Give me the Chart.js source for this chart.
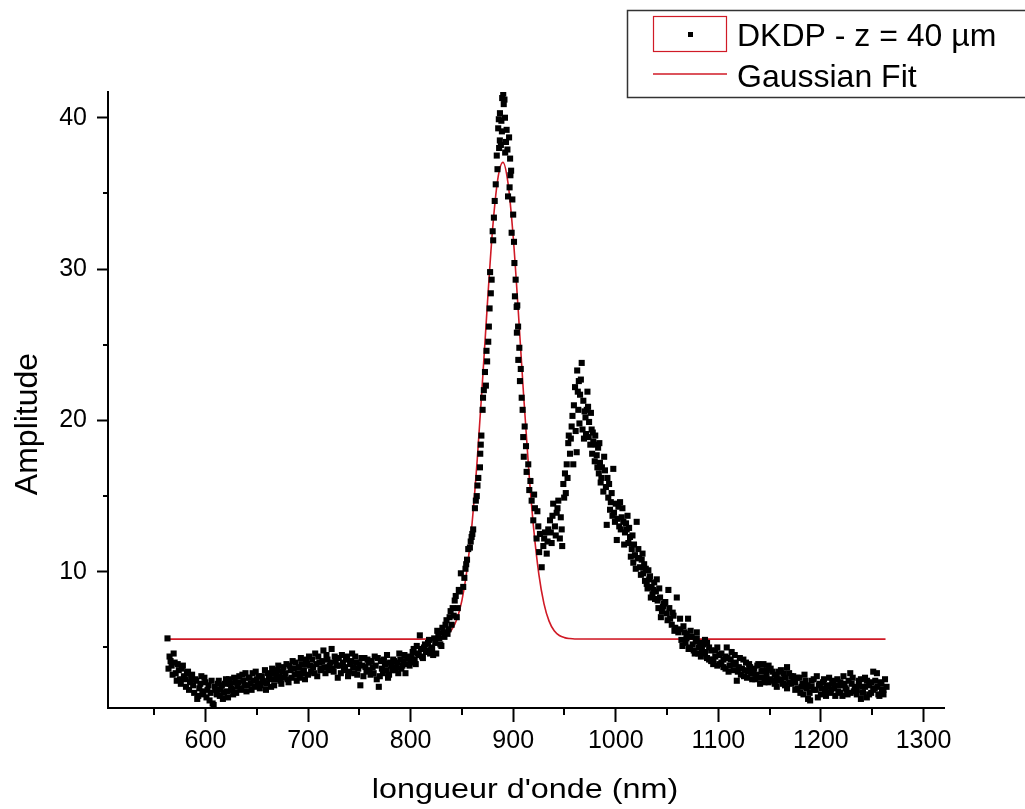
<!DOCTYPE html>
<html>
<head>
<meta charset="utf-8">
<title>DKDP - Amplitude</title>
<script src="https://cdn.jsdelivr.net/npm/chart.js@4.4.1/dist/chart.umd.min.js"></script>
<style>
  html, body { margin: 0; padding: 0; background: #fff; overflow: hidden; }
  canvas { display: block; }
</style>
</head>
<body>
<canvas id="myChart" width="1025" height="809"></canvas>
<script>
// tick labels
const xTicks = [600, 700, 800, 900, 1000, 1100, 1200, 1300];
const xMinorTicks = [550, 650, 750, 850, 950, 1050, 1150, 1250];
const yTicks = [10, 20, 30, 40];
const yMinorTicks = [5, 15, 25, 35];

// measured points, left baseline (nm / amplitude)
const wlLeft = [
  563, 565, 567, 569, 571, 573, 575, 577, 579, 581,
  583, 585, 587, 589, 591, 593, 595, 597, 599, 601,
  603, 605, 607, 609, 611, 613, 615, 617, 619, 621,
  623, 625, 627, 629, 631, 633, 635, 637, 639, 641,
  643, 645, 647, 649, 651, 653, 655, 657, 659, 661,
  663, 665, 667, 669, 671, 673, 675, 677, 679, 681,
  683, 685, 687, 689, 691, 693, 695, 697, 699, 701,
  703, 705, 707, 709, 711, 713, 715, 717, 719, 721,
  723, 725, 727, 729, 731, 733, 735, 737, 739, 741,
  743, 745, 747, 749, 751, 753, 755, 757, 759, 761,
  763, 765, 767, 769, 771, 773, 775, 777, 779, 781,
  783, 785, 787, 789, 791, 793, 795, 797, 799
];
const ampLeft = [
  5.6, 4.4, 3.8, 4.6, 3.3, 3.9, 2.9, 3.6, 3.1, 2.4,
  3.4, 2.7, 3.2, 2.0, 2.8, 1.8, 2.6, 2.1, 3.0, 1.7,
  2.5, 2.0, 1.3, 2.4, 1.9, 2.8, 2.2, 1.6, 2.6, 2.1,
  2.9, 2.3, 1.9, 2.7, 2.4, 3.1, 2.2, 2.8, 3.3, 2.5,
  3.0, 2.2, 2.8, 3.4, 2.6, 2.3, 3.1, 2.7, 2.2, 3.3,
  2.9, 3.6, 2.5, 3.2, 3.8, 2.8, 3.4, 3.0, 3.9, 2.7,
  3.5, 4.1, 3.2, 2.8, 3.7, 4.3, 3.3, 2.9, 3.9, 4.4,
  3.4, 3.7, 4.6, 3.1, 4.0, 3.6, 4.8, 3.3, 4.2, 3.8,
  4.9, 3.4, 4.1, 3.0, 3.8, 4.5, 3.5, 4.2, 3.1, 3.9,
  4.6, 3.3, 4.0, 3.6, 2.5, 3.8, 4.3, 3.4, 4.0, 3.2,
  3.7, 4.4, 2.9, 2.4, 4.1, 3.3, 3.9, 4.5, 3.2, 3.8,
  4.2, 3.5, 4.0, 4.6, 3.6, 4.1, 3.3, 4.4, 3.8
];
const wlLeft2 = [
  564, 566, 568, 570, 572, 574, 576, 578, 580, 582,
  584, 586, 588, 590, 592, 594, 596, 598, 600, 602,
  604, 606, 608, 610, 612, 614, 616, 618, 620, 622,
  624, 626, 628, 630, 632, 634, 636, 638, 640, 642,
  644, 646, 648, 650, 652, 654, 656, 658, 660, 662,
  664, 666, 668, 670, 672, 674, 676, 678, 680, 682,
  684, 686, 688, 690, 692, 694, 696, 698, 700, 702,
  704, 706, 708, 710, 712, 714, 716, 718, 720, 722,
  724, 726, 728, 730, 732, 734, 736, 738, 740, 742,
  744, 746, 748, 750, 752, 754, 756, 758, 760, 762,
  764, 766, 768, 770, 772, 774, 776, 778, 780, 782,
  784, 786, 788, 790, 792, 794, 796, 798
];
const ampLeft2 = [
  3.6, 4.1, 3.2, 4.0, 2.8, 3.5, 2.6, 3.8, 2.9, 3.3,
  2.2, 3.0, 2.5, 2.9, 1.6, 2.3, 3.1, 1.9, 2.7, 2.2,
  1.5, 2.8, 1.2, 2.2, 2.6, 1.8, 2.5, 2.0, 2.9, 1.7,
  2.6, 2.2, 3.0, 2.0, 2.7, 2.3, 3.2, 2.5, 2.1, 3.0,
  2.6, 3.3, 2.4, 2.9, 3.1, 2.5, 2.8, 3.5, 2.6, 3.0,
  2.4, 3.3, 2.9, 3.5, 3.1, 2.6, 3.7, 3.3, 2.9, 3.8,
  3.0, 3.6, 4.0, 3.3, 3.0, 3.9, 3.5, 4.2, 3.2, 3.8,
  4.2, 3.3, 3.9, 4.4, 3.5, 4.1, 3.7, 4.5, 3.5, 4.0,
  3.6, 4.4, 3.8, 4.3, 3.3, 4.0, 3.7, 4.4, 3.4, 4.1,
  3.7, 4.4, 3.2, 3.9, 4.3, 3.1, 3.7, 4.2, 3.5, 4.1,
  3.3, 3.8, 4.3, 3.1, 3.6, 4.2, 3.5, 3.0, 4.0, 3.5,
  4.1, 3.7, 3.3, 4.2, 3.8, 4.5, 3.9, 4.3
];

// rising edge before the main peak
const wlRise = [
  800, 801, 802, 803, 804, 805, 806, 807, 808, 809,
  810, 811, 812, 813, 814, 815, 816, 817, 818, 819,
  820, 821, 822, 823, 824, 825, 826, 827, 828, 829,
  830, 831, 832, 833, 834, 835, 836, 837, 838, 839,
  840, 841, 842, 843, 844, 845, 846, 847, 848, 849
];
const ampRise = [
  4.0, 4.3, 4.7, 4.9, 4.2, 3.9, 5.1, 4.6, 4.5, 5.8,
  4.9, 4.4, 4.3, 5.0, 5.2, 4.7, 4.8, 5.3, 5.5, 4.6,
  5.0, 4.9, 4.5, 5.6, 5.3, 4.6, 6.1, 5.9, 5.6, 5.2,
  5.1, 6.3, 6.0, 5.7, 6.5, 6.8, 5.9, 6.2, 7.0, 7.4,
  6.5, 7.6, 7.1, 8.1, 8.4, 7.0, 7.6, 8.8, 8.7, 9.9
];

// main peak and valley
const wlPeak = [
  851.3, 853.5, 855.0, 856.2, 857.8, 859.5, 861.0, 862.7, 864.5, 866.0,
  867.6, 867.9, 869.0, 870.2, 870.6, 872.5, 873.4, 874.6, 875.7, 876.3,
  877.0, 877.5, 879.0, 880.0, 880.5, 882.0, 883.0, 884.0, 885.4, 886.3,
  887.0, 887.1, 888.5, 889.3, 890.3, 890.8, 892.0, 892.2, 893.6, 895.0,
  896.0, 897.0, 897.3, 898.0, 898.5, 900.0, 900.8, 901.7, 902.4, 903.4,
  903.6, 904.0, 905.0, 906.0, 906.6, 908.3, 909.2, 909.8, 910.3, 912.5,
  913.1, 914.7, 915.7, 918.0, 919.6, 921.2, 922.8, 924.5, 926.1, 927.8,
  929.4, 931.0, 932.7, 934.2, 935.9, 937.5, 939.0, 940.7, 942.4, 944.0,
  945.5, 947.3, 947.8,
  852.4, 854.2, 858.6, 860.2, 863.6, 865.2, 868.4, 871.4, 874.0, 878.2,
  881.2, 884.7, 886.0, 888.0, 889.0, 891.5, 893.0, 894.4, 896.5, 899.2,
  901.2, 904.8, 907.4, 911.2, 916.8, 920.4, 923.6, 925.3, 930.2, 933.5,
  936.7, 938.3, 941.5, 943.2, 946.4
];
const ampPeak = [
  9.0, 10.2, 10.8, 11.5, 11.6, 12.3, 12.8, 14.2, 15.0, 16.2,
  16.9, 17.8, 19.0, 20.7, 21.5, 23.2, 22.3, 23.9, 25.2, 26.2,
  27.4, 29.8, 29.3, 32.5, 31.9, 34.5, 35.6, 37.5, 39.3, 38.0,
  38.5, 40.3, 39.8, 41.3, 41.6, 40.9, 40.0, 37.7, 39.2, 34.8,
  38.7, 37.3, 36.2, 36.5, 32.4, 33.6, 31.8, 28.2, 29.3, 27.5,
  25.8, 27.6, 24.0, 24.8, 22.6, 21.5, 20.7, 18.9, 17.6, 18.3,
  16.6, 17.1, 15.4, 14.7, 13.4, 14.2, 12.2, 13.0, 12.5, 10.3,
  11.7, 12.6, 11.2, 12.8, 13.4, 11.9, 14.5, 13.0, 13.9, 14.7,
  12.2, 12.8, 11.7,
  9.6, 10.5, 12.0, 12.5, 14.7, 15.7, 18.4, 22.0, 24.6, 28.4,
  33.4, 36.6, 39.9, 38.2, 39.1, 41.2, 38.4, 37.9, 35.4, 34.6,
  30.4, 26.2, 23.4, 19.6, 16.0, 15.1, 14.0, 11.3, 12.2, 12.0,
  12.6, 13.7, 12.4, 14.2, 13.6
];

// second peak and its decay
const wlSecond = [
  948.9, 950.5, 952.2, 953.7, 954.2, 955.4, 957.0, 958.6, 959.2, 960.3,
  961.9, 962.4, 963.5, 965.2, 966.8, 967.6, 968.4, 969.0, 970.5, 971.7,
  972.4, 974.0, 976.5, 977.0, 978.1, 979.5, 981.4, 982.8, 984.6, 985.3,
  987.9, 989.5, 991.2, 992.7, 994.4, 996.0, 997.6, 998.3, 999.2, 1001.0,
  1002.6, 1004.2, 1005.8, 1007.4, 1009.0, 1010.7, 1012.3, 1013.9, 1015.6, 1017.1,
  1018.7, 1020.4, 1022.0, 1023.7, 1025.3, 1026.9, 1028.5, 1030.2, 1031.8, 1033.4,
  1035.0, 1036.6, 1038.3, 1040.0, 1041.6, 1043.2, 1045.0, 1047.0, 1049.7, 1051.3,
  1053.0, 1054.6, 1056.3, 1058.0, 1059.5,
  951.3, 964.0, 973.0, 975.2, 980.0, 983.5, 986.5, 993.5, 1003.4, 1011.5,
  1016.3, 1021.2, 1027.7, 1034.2, 1039.1, 1044.0, 1048.3,
  949.7, 953.0, 956.2, 957.8, 960.9, 963.0, 964.6, 966.0, 969.6, 971.0,
  973.6, 975.8, 977.6, 980.6, 982.1, 984.0, 986.0, 988.7, 990.4, 991.9,
  995.2, 996.8, 1000.0, 1001.8, 1004.9, 1006.5, 1008.2, 1010.0, 1013.0, 1014.7,
  1017.8, 1019.5, 1022.8, 1024.5, 1026.1, 1029.3, 1031.0, 1032.6, 1035.8, 1037.5,
  1040.8, 1042.4, 1046.0, 1050.5, 1052.2, 1055.5, 1057.2
];
const ampSecond = [
  15.8, 16.5, 17.1, 18.5, 19.0, 17.8, 19.6, 17.1, 21.0, 22.2,
  17.9, 23.3, 20.7, 21.7, 23.8, 19.4, 21.3, 18.8, 20.2, 20.7,
  21.9, 19.9, 19.4, 17.8, 18.6, 17.3, 17.7, 18.2, 17.2, 15.9,
  15.3, 16.7, 13.1, 14.9, 14.1, 15.2, 16.8, 13.9, 13.3, 12.1,
  14.3, 14.6, 13.6, 13.3, 12.6, 12.8, 11.9, 12.3, 11.5, 10.6,
  11.1, 13.3, 11.5, 10.3, 10.8, 9.9, 9.4, 9.2, 10.1, 9.7,
  9.0, 8.8, 8.2, 9.5, 7.6, 8.3, 7.4, 7.9, 7.25, 8.8,
  6.9, 6.5, 7.1, 6.3, 8.3,
  15.2, 22.6, 20.9, 18.4, 19.0, 16.5, 16.9, 15.8, 13.0, 13.7,
  12.4, 10.9, 10.5, 8.3, 8.7, 7.0, 8.0,
  14.9, 16.2, 18.8, 20.3, 19.3, 21.9, 19.8, 22.7, 20.6, 19.1,
  18.9, 20.5, 19.2, 18.4, 16.9, 18.5, 16.2, 17.6, 15.6, 16.2,
  14.6, 13.7, 14.5, 13.5, 12.8, 14.2, 11.8, 13.2, 12.9, 11.0,
  11.8, 10.2, 10.9, 9.8, 11.2, 10.2, 8.9, 9.5, 8.5, 9.3,
  8.1, 8.9, 7.7, 6.8, 7.6, 7.3, 6.1
];

// long wavelength tail
const wlTail = [
  1061.0, 1062.7, 1064.0, 1066.0, 1068.0, 1069.2, 1070.5, 1072.4, 1074.0, 1076.0,
  1078.0, 1079.0, 1080.5, 1082.2, 1084.0, 1085.4, 1087.0, 1089.0, 1091.0, 1093.0,
  1095.2, 1097.0, 1099.0, 1101.0, 1103.0, 1105.0, 1107.0, 1108.2, 1110.0, 1112.0,
  1114.7, 1116.0, 1118.0, 1120.0, 1122.0, 1124.4, 1126.0, 1128.0, 1130.0, 1132.0,
  1134.2, 1136.0, 1138.0, 1140.7, 1142.0, 1144.0, 1146.0, 1147.3, 1149.0, 1151.0,
  1153.7, 1155.0, 1157.0, 1159.0, 1161.0, 1163.5, 1165.0, 1167.0, 1169.0, 1171.0,
  1173.2, 1175.0, 1177.0, 1180.0, 1182.0, 1184.0, 1186.0, 1187.5, 1189.5, 1191.0,
  1193.0, 1196.0, 1198.0, 1200.0, 1202.0, 1204.0, 1205.8, 1208.0, 1210.0, 1212.0,
  1214.0, 1216.0, 1218.8, 1220.0, 1222.0, 1224.0, 1226.0, 1228.6, 1230.0, 1232.0,
  1235.1, 1237.0, 1239.0, 1241.0, 1243.0, 1244.8, 1247.0, 1249.0, 1251.0, 1252.5,
  1254.6, 1256.0, 1258.0, 1259.5, 1261.0, 1262.5, 1264.0
];
const ampTail = [
  6.0, 6.9, 5.5, 6.4, 5.3, 5.9, 6.9, 5.0, 5.7, 4.8,
  5.4, 6.0, 4.6, 5.3, 4.9, 4.6, 5.5, 4.3, 5.0, 4.1,
  4.2, 4.8, 3.8, 4.5, 4.0, 3.7, 4.4, 5.0, 3.4, 4.2,
  3.9, 4.5, 2.8, 3.7, 3.2, 4.2, 3.5, 3.0, 3.9, 3.3,
  3.5, 2.9, 3.8, 2.6, 3.4, 3.9, 3.0, 3.5, 2.7, 3.6,
  2.8, 3.2, 2.4, 3.4, 2.9, 3.3, 2.5, 3.7, 2.7, 3.1,
  2.8, 2.2, 3.0, 2.0, 2.6, 3.2, 2.3, 1.6, 1.5, 2.8,
  2.2, 3.1, 2.5, 1.9, 2.7, 2.1, 2.4, 3.0, 2.2, 2.6,
  1.8, 2.9, 2.0, 2.5, 3.1, 2.3, 1.9, 3.3, 2.6, 2.1,
  2.2, 2.8, 1.6, 2.4, 3.0, 1.7, 2.5, 2.0, 3.4, 2.3,
  3.3, 1.9, 2.7, 2.2, 2.2, 2.9, 2.4
];
const wlTail2 = [
  1063, 1065, 1067, 1069, 1071, 1073, 1075, 1077, 1079, 1081,
  1083, 1085, 1087, 1089, 1091, 1093, 1095, 1097, 1099, 1101,
  1103, 1105, 1107, 1109, 1111, 1113, 1115, 1117, 1119, 1121,
  1123, 1125, 1127, 1129, 1131, 1133, 1135, 1137, 1139, 1141,
  1143, 1145, 1147, 1149, 1151, 1153, 1155, 1157, 1159, 1161,
  1163, 1165, 1167, 1169, 1171, 1173, 1175, 1177, 1179, 1181,
  1183, 1185, 1187, 1189, 1191, 1193, 1195, 1197, 1199, 1201,
  1203, 1205, 1207, 1209, 1211, 1213, 1215, 1217, 1219, 1221,
  1223, 1225, 1227, 1229, 1231, 1233, 1235, 1237, 1239, 1241,
  1243, 1245, 1247, 1249, 1251, 1253, 1255, 1257, 1259, 1261
];
const ampTail2 = [
  6.2, 5.1, 6.0, 5.6, 4.9, 6.1, 5.2, 4.6, 5.6, 5.0,
  4.4, 5.2, 4.7, 5.3, 4.2, 4.8, 3.9, 4.4, 5.0, 3.9,
  4.6, 4.2, 3.6, 4.3, 3.8, 4.7, 3.5, 4.0, 3.4, 4.3,
  3.6, 3.1, 4.0, 3.4, 3.7, 2.9, 3.6, 3.2, 3.9, 3.0,
  3.5, 2.7, 3.2, 3.8, 2.9, 3.4, 2.6, 3.1, 2.8, 3.5,
  2.6, 3.0, 2.3, 3.3, 2.6, 3.1, 2.7, 2.3, 3.0, 2.4,
  1.9, 2.8, 2.5, 2.0, 2.4, 2.9, 2.2, 1.7, 2.6, 2.3,
  2.9, 1.8, 2.5, 2.0, 2.8, 2.3, 2.5, 2.1, 2.7, 1.8,
  2.6, 2.2, 2.8, 2.0, 3.0, 2.4, 1.9, 2.5, 2.9, 2.0,
  2.4, 2.8, 1.9, 2.7, 2.2, 2.8, 2.4, 1.8, 2.6, 1.9
];

// gaussian fit curve
const fitX = [
  563, 800, 820, 825, 830, 835, 840, 845, 850, 855,
  860, 865, 870, 875, 880, 885, 890, 895, 900, 905, 910,
  915, 920, 925, 930, 935, 940, 945, 950, 955, 960,
  1263
];
const fitY = [
  5.55, 5.55, 5.56, 5.59, 5.66, 5.82, 6.16, 6.85, 8.1, 10.15,
  13.25, 17.45, 22.5, 27.85, 32.7, 35.95, 37.05, 35.66, 32.15, 27.2, 21.85,
  16.9, 12.83, 9.85, 7.9, 6.74, 6.1, 5.79, 5.65, 5.59, 5.56,
  5.55
];

const FONT = '"Liberation Sans", Arial, sans-serif';
const RED = 'rgb(208,26,38)';

const wavelength = [].concat(wlLeft, wlLeft2, wlRise, wlPeak, wlSecond, wlTail, wlTail2);
const amplitude = [].concat(ampLeft, ampLeft2, ampRise, ampPeak, ampSecond, ampTail, ampTail2);
const scatterData = wavelength.map((w, i) => ({ x: w, y: amplitude[i] }));
const fitData = fitX.map((w, i) => ({ x: w, y: fitY[i] }));

// minor ticks, axis titles and the boxed legend
const decor = {
  id: 'decor',
  afterDraw(chart) {
    const ctx = chart.ctx;
    const xs = chart.scales.x;
    const ys = chart.scales.y;
    const area = chart.chartArea;

    ctx.save();
    ctx.strokeStyle = '#000';
    ctx.lineWidth = 2;
    ctx.beginPath();
    xMinorTicks.forEach(v => {
      const px = Math.round(xs.getPixelForValue(v));
      ctx.moveTo(px, area.bottom);
      ctx.lineTo(px, area.bottom + 7);
    });
    yMinorTicks.forEach(v => {
      const py = Math.round(ys.getPixelForValue(v));
      ctx.moveTo(area.left, py);
      ctx.lineTo(area.left - 5, py);
    });
    ctx.stroke();

    ctx.fillStyle = '#000';
    ctx.textAlign = 'center';
    ctx.textBaseline = 'alphabetic';

    // x title
    ctx.save();
    ctx.font = '28px ' + FONT;
    ctx.translate((area.left + area.right) / 2 - 1, 798);
    ctx.scale(1.155, 1);
    ctx.fillText("longueur d'onde (nm)", 0, 0);
    ctx.restore();

    // y title
    ctx.save();
    ctx.font = '32px ' + FONT;
    ctx.translate(37, 424);
    ctx.rotate(-Math.PI / 2);
    ctx.fillText('Amplitude', 0, 0);
    ctx.restore();

    // legend
    ctx.lineWidth = 1.5;
    ctx.strokeStyle = '#333';
    ctx.strokeRect(627.5, 10.5, 420, 87);

    ctx.strokeStyle = RED;
    ctx.lineWidth = 1.2;
    ctx.strokeRect(653.5, 16.5, 73, 35);
    ctx.fillStyle = '#000';
    ctx.fillRect(688, 32, 5, 5);

    ctx.beginPath();
    ctx.lineWidth = 1.5;
    ctx.moveTo(653, 74);
    ctx.lineTo(727, 74);
    ctx.stroke();

    ctx.textAlign = 'left';
    ctx.font = '32px ' + FONT;
    ctx.fillText('DKDP - z = 40 \u00b5m', 737, 46);
    ctx.fillText('Gaussian Fit', 737, 87);
    ctx.restore();
  }
};

const ctx = document.getElementById('myChart').getContext('2d');
new Chart(ctx, {
  type: 'scatter',
  data: {
    datasets: [{
      label: 'DKDP - z = 40 \u00b5m',
      data: scatterData,
      pointStyle: 'rect',
      pointRadius: 4.3,
      pointBorderWidth: 0,
      backgroundColor: '#000',
      borderColor: '#000',
      showLine: false
    }, {
      label: 'Gaussian Fit',
      type: 'line',
      data: fitData,
      borderColor: RED,
      borderWidth: 1.6,
      pointRadius: 0,
      fill: false,
      cubicInterpolationMode: 'monotone'
    }]
  },
  options: {
    responsive: false,
    animation: false,
    devicePixelRatio: 1,
    layout: { padding: { top: 92, right: 81, left: 0, bottom: 0 } },
    plugins: {
      legend: { display: false },
      tooltip: { enabled: false }
    },
    scales: {
      x: {
        type: 'linear',
        min: 505,
        max: 1320,
        afterBuildTicks: s => { s.ticks = xTicks.map(v => ({ value: v })); },
        afterFit: s => { s.height = 101; },
        ticks: {
          color: '#000',
          font: { family: FONT, size: 25 },
          padding: 4,
          maxRotation: 0,
          autoSkip: false,
          callback: v => String(v)
        },
        grid: {
          drawOnChartArea: false,
          drawTicks: true,
          tickLength: 14,
          tickWidth: 2,
          tickColor: '#000'
        },
        border: { display: true, color: '#000', width: 2 }
      },
      y: {
        type: 'linear',
        min: 1,
        max: 41.7,
        afterBuildTicks: s => { s.ticks = yTicks.map(v => ({ value: v })); },
        afterFit: s => { s.width = 108; },
        ticks: {
          color: '#000',
          font: { family: FONT, size: 25 },
          padding: 10,
          autoSkip: false,
          callback: v => String(v)
        },
        grid: {
          drawOnChartArea: false,
          drawTicks: true,
          tickLength: 11,
          tickWidth: 2,
          tickColor: '#000'
        },
        border: { display: true, color: '#000', width: 2 }
      }
    }
  },
  plugins: [decor]
});
</script>
</body>
</html>
